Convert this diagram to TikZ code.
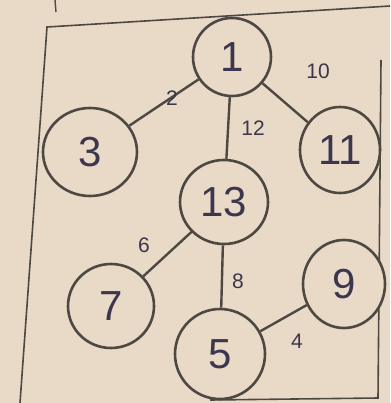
\documentclass[tikz,border=0pt]{standalone}
\usepackage{fontspec}
\setmainfont{Liberation Sans}
\usetikzlibrary{shapes.geometric}
\definecolor{paper}{RGB}{232,218,198}
\definecolor{pen}{RGB}{78,72,66}
\definecolor{ink}{RGB}{60,54,78}
\begin{document}
\begin{tikzpicture}[x=1pt,y=-1pt,
  vert/.style={ellipse,draw=pen,line width=2.6pt,fill=paper,text=ink,inner sep=0pt,
    font=\fontsize{42}{42}\selectfont},
  edge/.style={draw=pen,line width=2.4pt},
  wlabel/.style={text=ink,font=\fontsize{21}{21}\selectfont,inner sep=0pt}]
\fill[paper] (0,0) rectangle (390,403);
\useasboundingbox (0,0) rectangle (390,403);
% frame
\coordinate (f1) at (47,27);
\coordinate (f2) at (390,6);
\coordinate (f3) at (20,403);
\coordinate (f4) at (381,60);
\coordinate (f5) at (378,398);
\coordinate (f6) at (210,400);
\coordinate (t1) at (55,0);
\coordinate (t2) at (56,12);
\draw[pen,line width=1.6pt] (f2) -- (f1) -- (f3);
\draw[pen,line width=1.6pt] (f4) -- (f5) -- (f6);
\draw[pen,line width=1.4pt] (t1) -- (t2);
% vertices
\node[vert,minimum width=78pt,minimum height=78pt] (n1) at (232,57) {1};
\node[vert,minimum width=94pt,minimum height=88pt] (n3) at (90,152) {3};
\node[vert,minimum width=80pt,minimum height=86pt] (n11) at (340,150) {11};
\node[vert,minimum width=88pt,minimum height=84pt] (n13) at (224,202) {13};
\node[vert,minimum width=86pt,minimum height=84pt] (n7) at (111,306) {7};
\node[vert,minimum width=82pt,minimum height=88pt] (n9) at (344,284) {9};
\node[vert,minimum width=90pt,minimum height=90pt] (n5) at (220,354) {5};
% edges
\path (n1) edge[edge] (n3);
\path (n1) edge[edge] (n11);
\path (n1) edge[edge] (n13);
\path (n13) edge[edge] (n7);
\path (n13) edge[edge] (n5);
\path (n5) edge[edge] (n9);
% weights
\node[wlabel] (w2) at (172,98) {2};
\node[wlabel] (w10) at (318,71) {10};
\node[wlabel] (w12) at (253,128) {12};
\node[wlabel] (w6) at (144,245) {6};
\node[wlabel] (w8) at (238,281) {8};
\node[wlabel] (w4) at (297,341) {4};
\end{tikzpicture}
\end{document}
